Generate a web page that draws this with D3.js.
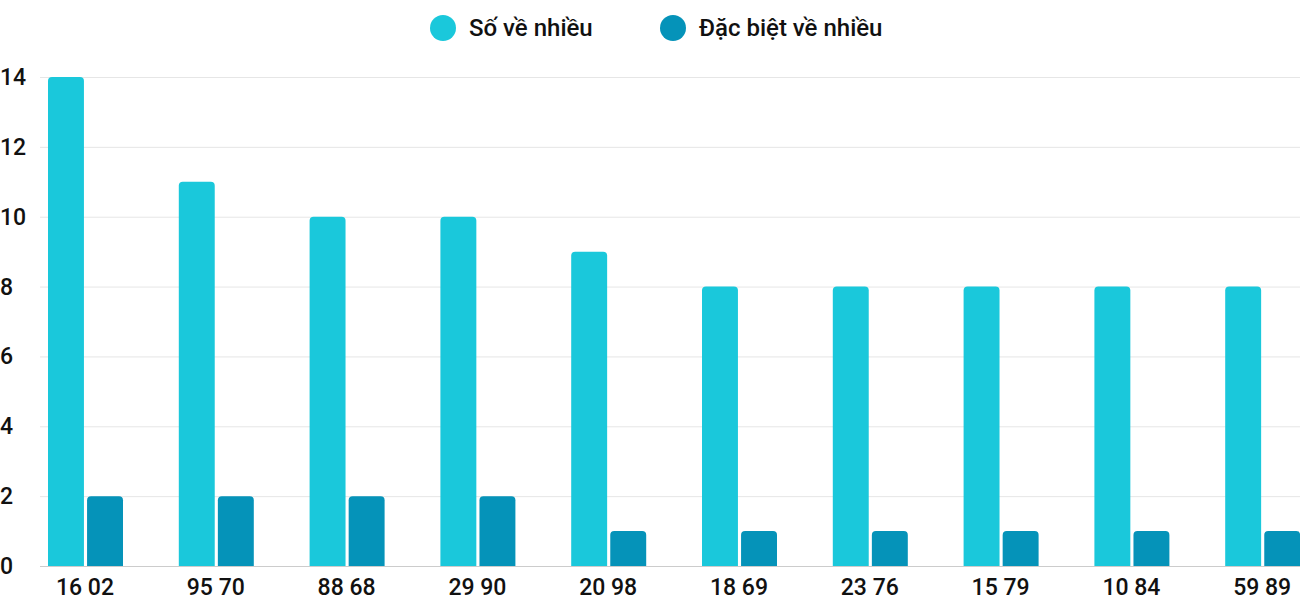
<!DOCTYPE html>
<html><head><meta charset="utf-8">
<script src="https://cdn.jsdelivr.net/npm/d3@7"></script>
<style>body{margin:0;background:#fff;font-family:Roboto,sans-serif}text{font-weight:500}</style>
</head><body><div id="chart"></div>
<script>
const categories = ['16 02','95 70','88 68','29 90','20 98','18 69','23 76','15 79','10 84','59 89'];
const soVeNhieu = [14,11,10,10,9,8,8,8,8,8];
const dacBiet = [2,2,2,2,1,1,1,1,1,1];
const seriesNames = ['Số về nhiều','Đặc biệt về nhiều'];
const colors = ['#1ac8db','#0593b9'];
const yTicks = [0,2,4,6,8,10,12,14];

const width = 1300, height = 600;
const svg = d3.select('#chart').append('svg').attr('width', width).attr('height', height);

const y = d3.scaleLinear().domain([0,14]).range([566,77]);
const x = d3.scaleBand().domain(categories).range([48, 48+1308]);
const xs = d3.scaleBand().domain([0,1]).range([0, 75]).paddingInner(0.08);

// grid
svg.append('g').selectAll('line').data(yTicks).join('line')
  .attr('x1', 40).attr('x2', 1300)
  .attr('y1', d => y(d)+0.5).attr('y2', d => y(d)+0.5)
  .attr('stroke', d => d === 0 ? '#ccc' : '#e6e6e6');

// y labels
svg.append('g').selectAll('text').data(yTicks).join('text')
  .attr('x', 0).attr('y', d => y(d)+8)
  .attr('font-size', 23).attr('fill', '#111').text(d => d);

function barPath(x0, w, top, base, r) {
  return `M${x0},${base}V${top+r}Q${x0},${top} ${x0+r},${top}H${x0+w-r}Q${x0+w},${top} ${x0+w},${top+r}V${base}Z`;
}
[soVeNhieu, dacBiet].forEach((vals, s) => {
  svg.append('g').selectAll('path').data(vals).join('path')
    .attr('d', (d,i) => barPath(x(categories[i]) + xs(s), xs.bandwidth(), y(d), y(0), 4))
    .attr('fill', colors[s]);
});

// x labels
svg.append('g').selectAll('text').data(categories).join('text')
  .attr('x', d => x(d) + 37).attr('y', 595)
  .attr('text-anchor', 'middle').attr('font-size', 23).attr('fill', '#111').text(d => d);

// legend
const lx = [443, 673];
seriesNames.forEach((n, i) => {
  svg.append('circle').attr('cx', lx[i]).attr('cy', 28).attr('r', 13).attr('fill', colors[i]);
  svg.append('text').attr('x', lx[i] + 26).attr('y', 36).attr('font-size', 24).attr('fill', '#111').text(n);
});
</script></body></html>
